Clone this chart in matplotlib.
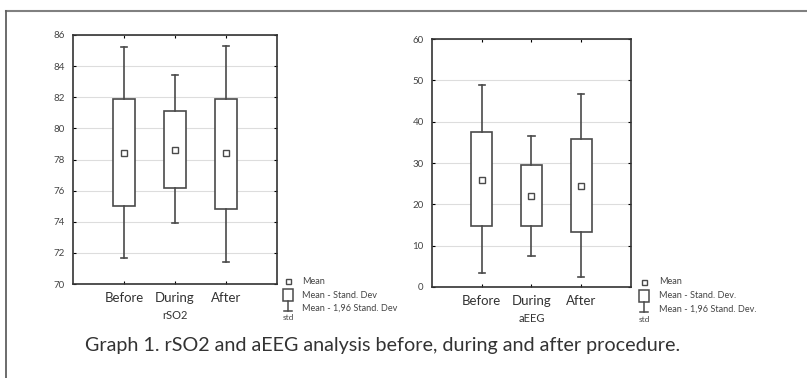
import matplotlib
matplotlib.use("Agg")
import matplotlib.pyplot as plt
from matplotlib.lines import Line2D
from matplotlib.patches import Rectangle

plt.rcParams['font.family'] = ['Lato', 'DejaVu Sans']

groups = ["Before", "During", "After"]

# rSO2: mean, mean -/+ SD, mean -/+ 1.96 SD
rso2_mean = [78.4, 78.6, 78.4]
rso2_sd_lo = [75.0, 76.2, 74.8]
rso2_sd_hi = [81.9, 81.1, 81.9]
rso2_ci_lo = [71.7, 73.9, 71.4]
rso2_ci_hi = [85.2, 83.4, 85.3]

# aEEG
aeeg_mean = [26.0, 22.0, 24.5]
aeeg_sd_lo = [14.7, 14.7, 13.3]
aeeg_sd_hi = [37.5, 29.5, 35.8]
aeeg_ci_lo = [3.5, 7.5, 2.5]
aeeg_ci_hi = [48.8, 36.6, 46.7]

edge = "#4a4a4a"
W, H = 807, 378

fig = plt.figure(figsize=(8.07, 3.78), dpi=100)


def draw_panel(rect, means, lo, hi, wlo, whi, ylim, yticks, xlabel):
    ax = fig.add_axes(rect)
    stats = []
    for i in range(len(means)):
        stats.append(dict(med=means[i], q1=lo[i], q3=hi[i],
                          whislo=wlo[i], whishi=whi[i], mean=means[i]))
    ax.bxp(stats, positions=[1, 2, 3], widths=0.43, capwidths=0.13,
           showmeans=True, showfliers=False, patch_artist=True,
           boxprops=dict(facecolor="white", edgecolor=edge, linewidth=1.2),
           whiskerprops=dict(color=edge, linewidth=1.2),
           capprops=dict(color=edge, linewidth=1.2),
           medianprops=dict(linewidth=0),
           meanprops=dict(marker="s", markersize=4, markerfacecolor="white",
                          markeredgecolor=edge, markeredgewidth=1.0))
    ax.set_xlim(0, 4)
    ax.set_ylim(*ylim)
    ax.set_yticks(yticks)
    ax.set_xticks([1, 2, 3])
    ax.set_xticklabels(groups, fontsize=9.5, color="#333333")
    ax.set_xlabel(xlabel, fontsize=8, color="#333333", labelpad=4)
    ax.tick_params(axis="y", labelsize=7, labelcolor="#444444", length=2,
                   direction="in", right=True, pad=6)
    ax.tick_params(axis="x", length=2, direction="in", top=True, pad=6)
    ax.grid(axis="y", color="#dddddd", linewidth=0.8)
    ax.set_axisbelow(True)
    for s in ax.spines.values():
        s.set_color("#333333")
        s.set_linewidth(1.2)
    return ax


draw_panel([73 / W, 1 - 284 / H, 204 / W, 249 / H], rso2_mean, rso2_sd_lo,
           rso2_sd_hi, rso2_ci_lo, rso2_ci_hi, (70, 86),
           list(range(70, 87, 2)), "rSO2")
draw_panel([432 / W, 1 - 287 / H, 199 / W, 248 / H], aeeg_mean, aeeg_sd_lo,
           aeeg_sd_hi, aeeg_ci_lo, aeeg_ci_hi, (0, 60),
           list(range(0, 61, 10)), "aEEG")


def px(x, y):
    return x / W, 1 - y / H


def legend(x, y, tx, sd_text, ci_text):
    # glyphs
    fig.add_artist(Rectangle(px(x - 2.5, y + 2.5), 5 / W, 5 / H,
                             facecolor="white", edgecolor=edge, lw=1.0,
                             transform=fig.transFigure))
    fig.add_artist(Rectangle(px(x - 5, y + 20), 10 / W, 12 / H,
                             facecolor="white", edgecolor=edge, lw=1.1,
                             transform=fig.transFigure))
    fig.add_artist(Line2D([px(x, 0)[0]] * 2, [px(0, y + 20)[1], px(0, y + 30)[1]],
                          color=edge, lw=1.1, transform=fig.transFigure))
    fig.add_artist(Line2D([px(x - 4, 0)[0], px(x + 4, 0)[0]],
                          [px(0, y + 30)[1]] * 2, color=edge, lw=1.1,
                          transform=fig.transFigure))
    kw = dict(fontsize=6.6, color="#444444", va="center", ha="left")
    fig.text(*px(tx, y), "Mean", **kw)
    fig.text(*px(tx, y + 14), sd_text, **kw)
    fig.text(*px(tx, y + 27), ci_text, **kw)
    fig.text(*px(x, y + 37), "std", fontsize=6, color="#444444",
             ha="center", va="center")


legend(288, 281, 302, "Mean - Stand. Dev", "Mean - 1,96 Stand. Dev")
legend(644, 282, 659, "Mean - Stand. Dev.", "Mean - 1,96 Stand. Dev.")

fig.text(*px(85, 345), "Graph 1. rSO2 and aEEG analysis before, during and after procedure.",
         fontsize=14.2, color="#333333", ha="left", va="center")

# page frame
fig.add_artist(Line2D([6 / W, 1.0], [1 - 11 / H] * 2, color="#808080", lw=1.5,
                      transform=fig.transFigure))
fig.add_artist(Line2D([6 / W] * 2, [0, 1 - 11 / H], color="#606060", lw=1.3,
                      transform=fig.transFigure))

fig.savefig("out.png", dpi=100)
